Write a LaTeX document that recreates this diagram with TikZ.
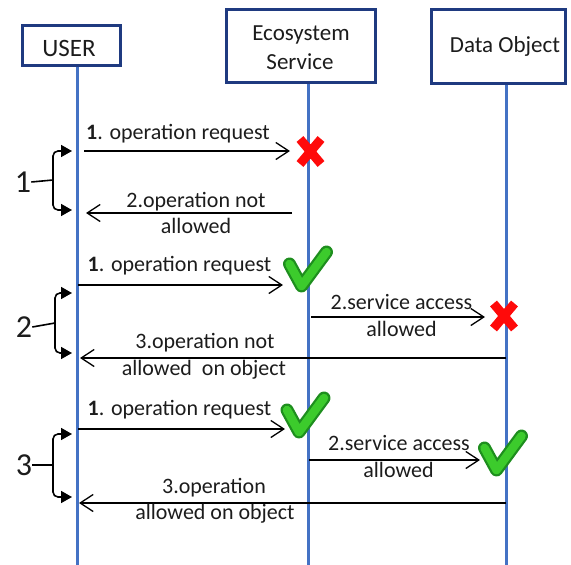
\documentclass[tikz,border=0pt]{standalone}
\usepackage{fontspec}
\setmainfont{Carlito}
\usetikzlibrary{arrows.meta}
\definecolor{lifeblue}{HTML}{4472C4}
\definecolor{boxnavy}{HTML}{1F3A80}
\definecolor{chkdark}{HTML}{1E8E1E}
\definecolor{chklight}{HTML}{3CCB2C}
\definecolor{xred}{HTML}{FF0A0A}
\definecolor{txt}{HTML}{1C1C1C}
\begin{document}
\begin{tikzpicture}[x=1pt,y=-1pt,
  box/.style={draw=boxnavy,line width=3.2pt,fill=white,inner sep=0pt},
  hdr/.style={font=\fontsize{23}{29}\selectfont,align=center,inner sep=0pt,anchor=base,text=txt},
  life/.style={draw=lifeblue,line width=3pt},
  msg/.style={draw=black,line width=1.4pt,-{Straight Barb[length=13pt,width=17pt,line width=1.3pt]}},
  lbl/.style={font=\fontsize{22}{26}\selectfont,inner sep=0pt,anchor=base,text=txt},
  brace/.style={draw=black,line width=1.6pt,rounded corners=5pt,-{Triangle[length=11pt,width=12pt]}},
  bnum/.style={font=\fontsize{32}{32}\selectfont,inner sep=0pt,text=txt},
  chk/.pic={
    \draw[chkdark,line width=13pt,line cap=round,line join=round] (-18,-6) -- (-6,16) -- (19,-18);
    \draw[chklight,line width=8.5pt,line cap=round,line join=round] (-18,-6) -- (-6,16) -- (19,-18);
  },
  xmark/.pic={
    \draw[xred,line width=9pt] (-10.5,-12.5) -- (10.5,12.5) (10.5,-12.5) -- (-10.5,12.5);
  }
]
\useasboundingbox (0,0) rectangle (571,565);

% lifelines
\coordinate (uEnd) at (77,565);
\coordinate (eEnd) at (308,565);
\coordinate (dEnd) at (506,565);
\draw[life] (77,60) -- (uEnd);
\draw[life] (308,80) -- (eEnd);
\draw[life] (506,80) -- (dEnd);

% header boxes
\node[box,minimum width=98pt,minimum height=40pt] (user) at (71.5,45.5) {};
\node[hdr,font=\fontsize{25}{29}\selectfont] (userT) at (69,56) {USER};
\node[box,minimum width=149pt,minimum height=73pt] (eco) at (301,46) {};
\node[hdr] (ecoT1) at (301,40) {Ecosystem};
\node[hdr] (ecoT2) at (300,69) {Service};
\node[box,minimum width=134pt,minimum height=74pt] (data) at (498.5,46.5) {};
\node[hdr] (dataT) at (505,52) {Data Object};

% ---------- group 1 ----------
\coordinate (g1m1s) at (84,151);  \coordinate (g1m1e) at (290,151);
\coordinate (g1m2s) at (292,213); \coordinate (g1m2e) at (86,213);
\draw[msg] (g1m1s) -- (g1m1e);
\draw[msg] (g1m2s) -- (g1m2e);
\node[lbl] (g1l1) at (178,139) {\textbf{1}. operation request};
\node[lbl] (g1l2a) at (196,207) {2.operation not};
\node[lbl] (g1l2b) at (196,233) {allowed};
\pic at (310.5,151.5) {xmark};
\node[bnum] (n1) at (23,182) {1};
\coordinate (b1m) at (53,180); \coordinate (b1t) at (72,151); \coordinate (b1b) at (72,210);
\draw[line width=1.6pt] (n1.east) -- (b1m);
\draw[brace] (b1m) |- (b1t);
\draw[brace] (b1m) |- (b1b);

% ---------- group 2 ----------
\coordinate (g2m1s) at (78,285);  \coordinate (g2m1e) at (283,285);
\coordinate (g2m2s) at (311,317); \coordinate (g2m2e) at (485,317);
\coordinate (g2m3s) at (506,358); \coordinate (g2m3e) at (80,358);
\draw[msg] (g2m1s) -- (g2m1e);
\draw[msg] (g2m2s) -- (g2m2e);
\draw[msg] (g2m3s) -- (g2m3e);
\node[lbl] (g2l1) at (179.5,271) {\textbf{1}. operation request};
\node[lbl] (g2l2a) at (401.5,309) {2.service access};
\node[lbl] (g2l2b) at (401.5,336) {allowed};
\node[lbl] (g2l3a) at (205,348) {3.operation not};
\node[lbl] (g2l3b) at (204,375) {allowed\ \ on object};
\pic at (307.5,270) {chk};
\pic at (504,316) {xmark};
\node[bnum] (n2) at (24,327) {2};
\coordinate (b2m) at (55,323); \coordinate (b2t) at (72,293); \coordinate (b2b) at (72,353);
\draw[line width=1.6pt] (n2.east) -- (b2m);
\draw[brace] (b2m) |- (b2t);
\draw[brace] (b2m) |- (b2b);

% ---------- group 3 ----------
\coordinate (g3m1s) at (78,429);  \coordinate (g3m1e) at (285,429);
\coordinate (g3m2s) at (309,460); \coordinate (g3m2e) at (480,460);
\coordinate (g3m3s) at (506,503); \coordinate (g3m3e) at (79,503);
\draw[msg] (g3m1s) -- (g3m1e);
\draw[msg] (g3m2s) -- (g3m2e);
\draw[msg] (g3m3s) -- (g3m3e);
\node[lbl] (g3l1) at (179.5,415) {\textbf{1}. operation request};
\node[lbl] (g3l2a) at (399,450) {2.service access};
\node[lbl] (g3l2b) at (398.5,477) {allowed};
\node[lbl] (g3l3a) at (214,493) {3.operation};
\node[lbl] (g3l3b) at (215,519) {allowed on object};
\pic at (305,416) {chk};
\pic at (502.5,454) {chk};
\node[bnum] (n3) at (24,465) {3};
\coordinate (b3m) at (53,465); \coordinate (b3t) at (72,434); \coordinate (b3b) at (72,497);
\draw[line width=1.6pt] (n3.east) -- (b3m);
\draw[brace] (b3m) |- (b3t);
\draw[brace] (b3m) |- (b3b);
\end{tikzpicture}
\end{document}
